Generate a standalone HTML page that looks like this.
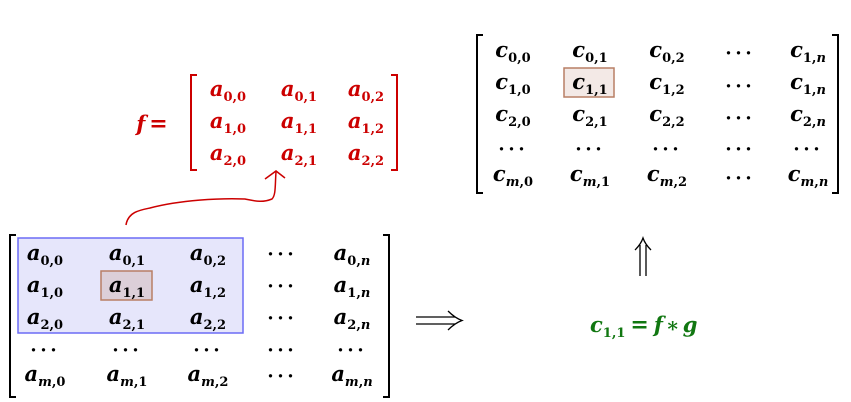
<!DOCTYPE html>
<html><head><meta charset="utf-8"><style>
body{margin:0;background:#fff;}
svg{display:block}
text{font-family:"DejaVu Serif","Liberation Serif",serif;font-weight:bold;}
.v{font-style:italic;font-size:21px}
.s{font-size:13px}
.d{font-size:21px;letter-spacing:3px;font-family:"Liberation Serif",serif}
</style></head><body>
<svg width="851" height="402" viewBox="0 0 851 402" xmlns="http://www.w3.org/2000/svg">
<!-- left matrix -->
<rect x="18" y="238" width="225" height="95" fill="#e6e6fb" stroke="#6b6bf5" stroke-width="1.5"/>
<rect x="101" y="271" width="51" height="29" fill="#dccfd8" stroke="#b87f65" stroke-width="1.5"/>
<path d="M16 235 H10 V397 H16" fill="none" stroke="#000" stroke-width="2"/>
<path d="M383 235 H389 V397 H383" fill="none" stroke="#000" stroke-width="2"/>
<g text-anchor="middle">
<text x="45" y="260"><tspan class="v">a</tspan><tspan class="s" dy="5">0,0</tspan></text>
<text x="127" y="260"><tspan class="v">a</tspan><tspan class="s" dy="5">0,1</tspan></text>
<text x="208" y="260"><tspan class="v">a</tspan><tspan class="s" dy="5">0,2</tspan></text>
<text x="282" y="261" class="d">···</text>
<text x="352" y="260"><tspan class="v">a</tspan><tspan class="s" dy="5">0,<tspan font-style="italic">n</tspan></tspan></text>
<text x="45" y="292"><tspan class="v">a</tspan><tspan class="s" dy="5">1,0</tspan></text>
<text x="127" y="292"><tspan class="v">a</tspan><tspan class="s" dy="5">1,1</tspan></text>
<text x="208" y="292"><tspan class="v">a</tspan><tspan class="s" dy="5">1,2</tspan></text>
<text x="282" y="293" class="d">···</text>
<text x="352" y="292"><tspan class="v">a</tspan><tspan class="s" dy="5">1,<tspan font-style="italic">n</tspan></tspan></text>
<text x="45" y="324"><tspan class="v">a</tspan><tspan class="s" dy="5">2,0</tspan></text>
<text x="127" y="324"><tspan class="v">a</tspan><tspan class="s" dy="5">2,1</tspan></text>
<text x="208" y="324"><tspan class="v">a</tspan><tspan class="s" dy="5">2,2</tspan></text>
<text x="282" y="325" class="d">···</text>
<text x="352" y="324"><tspan class="v">a</tspan><tspan class="s" dy="5">2,<tspan font-style="italic">n</tspan></tspan></text>
<text x="45" y="357" class="d">···</text>
<text x="127" y="357" class="d">···</text>
<text x="208" y="357" class="d">···</text>
<text x="282" y="357" class="d">···</text>
<text x="352" y="357" class="d">···</text>
<text x="45" y="381"><tspan class="v">a</tspan><tspan class="s" dy="5"><tspan font-style="italic">m</tspan>,0</tspan></text>
<text x="127" y="381"><tspan class="v">a</tspan><tspan class="s" dy="5"><tspan font-style="italic">m</tspan>,1</tspan></text>
<text x="208" y="381"><tspan class="v">a</tspan><tspan class="s" dy="5"><tspan font-style="italic">m</tspan>,2</tspan></text>
<text x="282" y="383" class="d">···</text>
<text x="352" y="381"><tspan class="v">a</tspan><tspan class="s" dy="5"><tspan font-style="italic">m</tspan>,<tspan font-style="italic">n</tspan></tspan></text>
</g>
<!-- f matrix -->
<g fill="#cc0000" text-anchor="middle">
<path d="M197 75 H191 V170 H197" fill="none" stroke="#cc0000" stroke-width="2"/>
<path d="M391 75 H397 V170 H391" fill="none" stroke="#cc0000" stroke-width="2"/>
<text x="152" y="131"><tspan class="v">f</tspan><tspan font-size="22px" dx="4">=</tspan></text>
<text x="228" y="96"><tspan class="v">a</tspan><tspan class="s" dy="5">0,0</tspan></text>
<text x="299" y="96"><tspan class="v">a</tspan><tspan class="s" dy="5">0,1</tspan></text>
<text x="366" y="96"><tspan class="v">a</tspan><tspan class="s" dy="5">0,2</tspan></text>
<text x="228" y="128"><tspan class="v">a</tspan><tspan class="s" dy="5">1,0</tspan></text>
<text x="299" y="128"><tspan class="v">a</tspan><tspan class="s" dy="5">1,1</tspan></text>
<text x="366" y="128"><tspan class="v">a</tspan><tspan class="s" dy="5">1,2</tspan></text>
<text x="228" y="160"><tspan class="v">a</tspan><tspan class="s" dy="5">2,0</tspan></text>
<text x="299" y="160"><tspan class="v">a</tspan><tspan class="s" dy="5">2,1</tspan></text>
<text x="366" y="160"><tspan class="v">a</tspan><tspan class="s" dy="5">2,2</tspan></text>
</g>
<path d="M126 225 C128 212 140 210 150 208 C180 200 220 198 245 199 C255 201 262 203 272 199 C276 195 275 185 276 172" fill="none" stroke="#cc0000" stroke-width="1.5"/>
<path d="M265 179 L276 171 L285 178" fill="none" stroke="#cc0000" stroke-width="1.5"/>
<!-- c matrix -->
<rect x="564" y="68" width="50" height="29" fill="#f3e9e6" stroke="#b87f65" stroke-width="1.5"/>
<path d="M483 35 H477 V193 H483" fill="none" stroke="#000" stroke-width="2"/>
<path d="M832 35 H838 V193 H832" fill="none" stroke="#000" stroke-width="2"/>
<g text-anchor="middle">
<text x="513" y="57"><tspan class="v">c</tspan><tspan class="s" dy="5">0,0</tspan></text>
<text x="590" y="57"><tspan class="v">c</tspan><tspan class="s" dy="5">0,1</tspan></text>
<text x="667" y="57"><tspan class="v">c</tspan><tspan class="s" dy="5">0,2</tspan></text>
<text x="740" y="60" class="d">···</text>
<text x="808" y="57"><tspan class="v">c</tspan><tspan class="s" dy="5">1,<tspan font-style="italic">n</tspan></tspan></text>
<text x="513" y="89"><tspan class="v">c</tspan><tspan class="s" dy="5">1,0</tspan></text>
<text x="590" y="89"><tspan class="v">c</tspan><tspan class="s" dy="5">1,1</tspan></text>
<text x="667" y="89"><tspan class="v">c</tspan><tspan class="s" dy="5">1,2</tspan></text>
<text x="740" y="93" class="d">···</text>
<text x="808" y="89"><tspan class="v">c</tspan><tspan class="s" dy="5">1,<tspan font-style="italic">n</tspan></tspan></text>
<text x="513" y="121"><tspan class="v">c</tspan><tspan class="s" dy="5">2,0</tspan></text>
<text x="590" y="121"><tspan class="v">c</tspan><tspan class="s" dy="5">2,1</tspan></text>
<text x="667" y="121"><tspan class="v">c</tspan><tspan class="s" dy="5">2,2</tspan></text>
<text x="740" y="125" class="d">···</text>
<text x="808" y="121"><tspan class="v">c</tspan><tspan class="s" dy="5">2,<tspan font-style="italic">n</tspan></tspan></text>
<text x="513" y="156" class="d">···</text>
<text x="590" y="156" class="d">···</text>
<text x="667" y="156" class="d">···</text>
<text x="740" y="156" class="d">···</text>
<text x="808" y="156" class="d">···</text>
<text x="513" y="181"><tspan class="v">c</tspan><tspan class="s" dy="5"><tspan font-style="italic">m</tspan>,0</tspan></text>
<text x="590" y="181"><tspan class="v">c</tspan><tspan class="s" dy="5"><tspan font-style="italic">m</tspan>,1</tspan></text>
<text x="667" y="181"><tspan class="v">c</tspan><tspan class="s" dy="5"><tspan font-style="italic">m</tspan>,2</tspan></text>
<text x="740" y="185" class="d">···</text>
<text x="808" y="181"><tspan class="v">c</tspan><tspan class="s" dy="5"><tspan font-style="italic">m</tspan>,<tspan font-style="italic">n</tspan></tspan></text>
</g>
<!-- implies arrow -->
<path d="M416 317 H455 M416 324 H455" stroke="#000" stroke-width="1.3"/>
<path d="M448 311 Q455 318 462 320.5 Q455 323 448 330" fill="none" stroke="#000" stroke-width="1.3"/>
<!-- up double arrow -->
<path d="M640 245 V276 M646 245 V276" stroke="#000" stroke-width="1.3"/>
<path d="M635 250 Q641 244 643 238 Q645 244 651 250" fill="none" stroke="#000" stroke-width="1.3"/>
<!-- green eq -->
<text x="590" y="332" fill="#117711"><tspan class="v">c</tspan><tspan class="s" dy="5">1,1</tspan><tspan font-size="22px" dy="-5" dx="5">=</tspan><tspan class="v" dx="5">f</tspan><tspan font-size="20px" dx="3">∗</tspan><tspan class="v" dx="3">g</tspan></text>
</svg>
</body></html>
